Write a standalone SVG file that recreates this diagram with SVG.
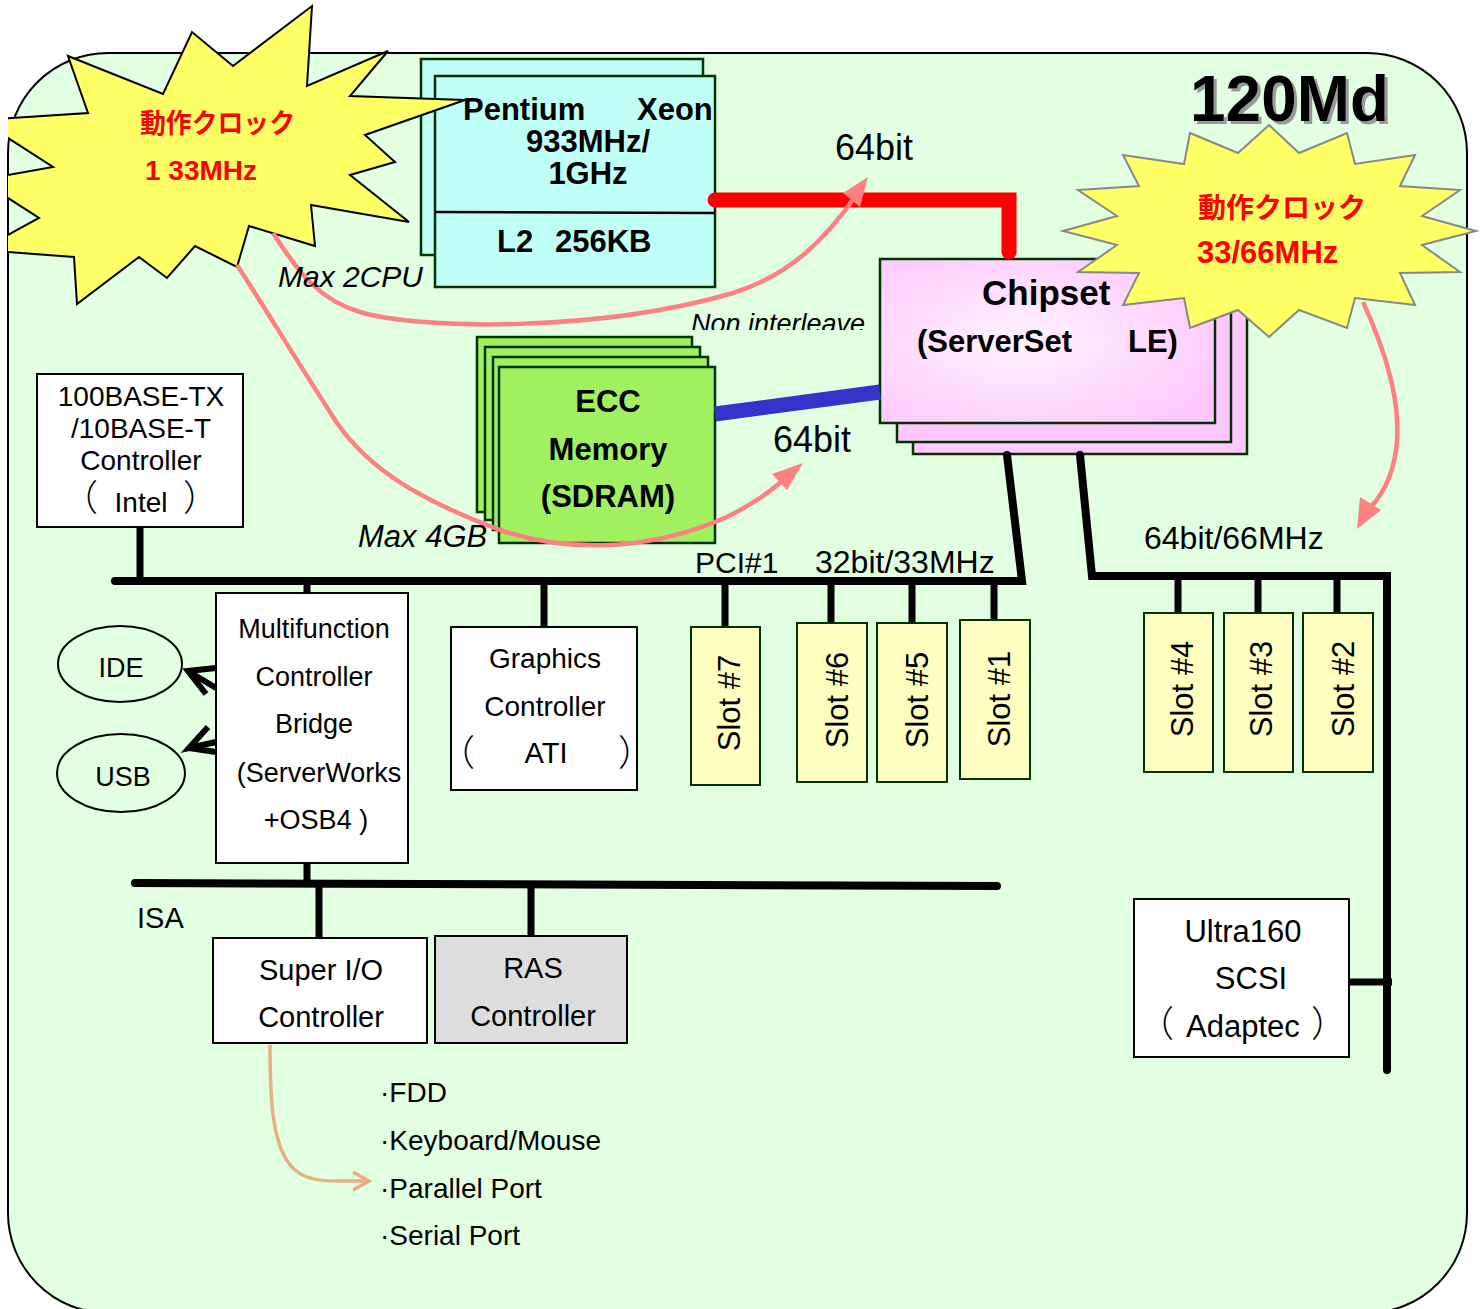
<svg xmlns="http://www.w3.org/2000/svg" width="1481" height="1309" viewBox="0 0 1481 1309">
<defs>
<style>
.t{font-family:"Liberation Sans",Arial,"Noto Sans CJK JP",sans-serif;fill:#000}
.b{font-weight:bold}
.i{font-style:italic}
.br{font-family:"Noto Sans CJK JP","Liberation Sans",sans-serif;font-size:36px;font-weight:300;fill:#000}
.jp{font-family:"Liberation Sans","Noto Sans CJK JP",sans-serif;font-weight:bold;fill:#ff0000}
.node{stroke:#003300;stroke-width:2.5}
.box{fill:#fff;stroke:#000;stroke-width:2}
.slot{fill:#ffffc0;stroke:#003300;stroke-width:2}
.bus{fill:none;stroke:#000;stroke-width:8}
.stem{fill:none;stroke:#000;stroke-width:7}
.pink{fill:none;stroke:#ff8080;stroke-width:4.5}
</style>
<radialGradient id="chipG" cx="0.42" cy="0.5" r="0.65">
<stop offset="0" stop-color="#fff4ff"/>
<stop offset="1" stop-color="#ffc8ff"/>
</radialGradient>
<filter id="shadow" x="-5%" y="-5%" width="115%" height="125%">
<feDropShadow dx="3" dy="3" stdDeviation="0.6" flood-color="#999999" flood-opacity="1"/>
</filter>
<clipPath id="clipL"><rect x="8" y="0" width="1473" height="1309"/></clipPath>
<clipPath id="clipNI"><rect x="680" y="300" width="200" height="30"/></clipPath>
</defs>

<rect id="board" x="8" y="53" width="1459" height="1260" rx="100" ry="100" fill="#e2ffe2" stroke="#000" stroke-width="2"/>

<g id="cpu">
<rect class="node" x="421" y="59" width="282" height="196" fill="#bffff8"/>
<rect class="node" x="435" y="76" width="280" height="211" fill="#bffff8"/>
<line x1="435" y1="212" x2="715" y2="213" stroke="#000" stroke-width="2.5"/>
</g>

<g id="memory">
<rect class="node" x="477" y="337" width="215" height="175" fill="#a0f060"/>
<rect class="node" x="485" y="347" width="215" height="173" fill="#a0f060"/>
<rect class="node" x="493" y="357" width="215" height="173" fill="#a0f060"/>
<rect class="node" x="499" y="367" width="216" height="176" fill="#a0f060"/>
<text class="t b" x="608" y="412" font-size="31" text-anchor="middle">ECC</text>
<text class="t b" x="608" y="460" font-size="31" text-anchor="middle">Memory</text>
<text class="t b" x="608" y="507" font-size="31" text-anchor="middle">(SDRAM)</text>
</g>

<g id="chipset">
<rect class="node" x="913" y="290" width="334" height="164" fill="#ffc8ff"/>
<rect class="node" x="897" y="276" width="334" height="166" fill="#ffc8ff"/>
<rect class="node" x="880" y="259" width="335" height="164" fill="url(#chipG)"/>
<text class="t b" x="982" y="305" font-size="35">Chipset</text>
<text class="t b" font-size="31"><tspan x="917" y="352">(ServerSet</tspan><tspan x="1128" y="352">LE)</tspan></text>
</g>

<g id="connectors">
<path d="M715,200 L1009,200 L1009,252" fill="none" stroke="#ff0000" stroke-width="15" stroke-linecap="round" stroke-linejoin="miter"/>
<line x1="715" y1="414" x2="880" y2="392" stroke="#3333cc" stroke-width="15"/>
<polyline class="bus" points="115,581 1022,581 1007,455" stroke-linecap="round"/>
<polyline class="bus" points="1080,455 1092,576 1387,576 1387,1070" stroke-linecap="round"/>
<line class="bus" x1="135" y1="883" x2="997" y2="886" stroke-linecap="round"/>
<line class="stem" x1="140" y1="527" x2="140" y2="582" stroke="#222"/>
<line class="stem" x1="307" y1="582" x2="307" y2="593"/>
<line class="stem" x1="544" y1="582" x2="544" y2="627"/>
<line class="stem" x1="725" y1="582" x2="725" y2="627"/>
<line class="stem" x1="831" y1="582" x2="831" y2="623"/>
<line class="stem" x1="912" y1="582" x2="912" y2="623"/>
<line class="stem" x1="994" y1="582" x2="994" y2="620"/>
<line class="stem" x1="1178" y1="576" x2="1178" y2="613"/>
<line class="stem" x1="1258" y1="576" x2="1258" y2="613"/>
<line class="stem" x1="1337" y1="576" x2="1337" y2="613"/>
<line class="stem" x1="1349" y1="982" x2="1392" y2="982"/>
<line class="stem" x1="307" y1="863" x2="307" y2="884"/>
<line class="stem" x1="319" y1="885" x2="319" y2="938"/>
<line class="stem" x1="531" y1="886" x2="531" y2="936"/>
<line x1="216" y1="688" x2="188" y2="671" stroke="#000" stroke-width="6"/>
<path d="M216,668 L188,671 L206,694" fill="none" stroke="#000" stroke-width="6"/>
<line x1="216" y1="752" x2="189" y2="748" stroke="#000" stroke-width="6"/>
<path d="M208,727 L189,748 L216,742" fill="none" stroke="#000" stroke-width="6"/>
<path d="M270,1045 C270,1100 272,1150 295,1170 C310,1183 330,1181 366,1181" fill="none" stroke="#e8b080" stroke-width="3.5"/>
<path d="M353,1172 L369,1181 L353,1190" fill="none" stroke="#e8b080" stroke-width="3.5"/>
</g>

<g id="net">
<rect class="box" x="37" y="374" width="206" height="153"/>
<text class="t" x="141" y="406" font-size="28" text-anchor="middle">100BASE-TX</text>
<text class="t" x="141" y="438" font-size="28" text-anchor="middle">/10BASE-T</text>
<text class="t" x="141" y="470" font-size="28" text-anchor="middle">Controller</text>
<text class="br" x="98" y="511" text-anchor="end">（</text>
<text class="t" x="141" y="512" font-size="28" text-anchor="middle">Intel</text>
<text class="br" x="183" y="511">）</text>
</g>

<g id="mfc">
<rect class="box" x="216" y="593" width="192" height="270"/>
<text class="t" x="314" y="638" font-size="27" text-anchor="middle">Multifunction</text>
<text class="t" x="314" y="686" font-size="27" text-anchor="middle">Controller</text>
<text class="t" x="314" y="733" font-size="27" text-anchor="middle">Bridge</text>
<text class="t" x="319" y="782" font-size="27" text-anchor="middle">(ServerWorks</text>
<text class="t" x="316" y="829" font-size="27" text-anchor="middle">+OSB4 )</text>
</g>

<g id="ide">
<ellipse cx="120" cy="664" rx="62" ry="38" fill="none" stroke="#000" stroke-width="2"/>
<text class="t" x="121" y="677" font-size="27" text-anchor="middle">IDE</text>
</g>
<g id="usb">
<ellipse cx="121" cy="773" rx="64" ry="39" fill="none" stroke="#000" stroke-width="2"/>
<text class="t" x="123" y="786" font-size="27" text-anchor="middle">USB</text>
</g>

<g id="graphics">
<rect class="box" x="451" y="627" width="186" height="163"/>
<text class="t" x="545" y="668" font-size="28" text-anchor="middle">Graphics</text>
<text class="t" x="545" y="716" font-size="28" text-anchor="middle">Controller</text>
<text class="br" x="475" y="766" text-anchor="end">（</text>
<text class="t" x="546" y="763" font-size="29" text-anchor="middle">ATI</text>
<text class="br" x="618" y="766">）</text>
</g>

<g id="slot7"><rect class="slot" x="691" y="627" width="69" height="158"/><text class="t" font-size="31" text-anchor="middle" transform="translate(740,703) rotate(-90)">Slot #7</text></g>
<g id="slot6"><rect class="slot" x="797" y="623" width="70" height="159"/><text class="t" font-size="31" text-anchor="middle" transform="translate(848,700) rotate(-90)">Slot #6</text></g>
<g id="slot5"><rect class="slot" x="877" y="623" width="70" height="159"/><text class="t" font-size="31" text-anchor="middle" transform="translate(928,700) rotate(-90)">Slot #5</text></g>
<g id="slot1"><rect class="slot" x="960" y="620" width="70" height="159"/><text class="t" font-size="31" text-anchor="middle" transform="translate(1010,699) rotate(-90)">Slot #1</text></g>
<g id="slot4"><rect class="slot" x="1144" y="613" width="69" height="159"/><text class="t" font-size="31" text-anchor="middle" transform="translate(1193,689) rotate(-90)">Slot #4</text></g>
<g id="slot3"><rect class="slot" x="1224" y="613" width="69" height="159"/><text class="t" font-size="31" text-anchor="middle" transform="translate(1272,689) rotate(-90)">Slot #3</text></g>
<g id="slot2"><rect class="slot" x="1303" y="613" width="70" height="159"/><text class="t" font-size="31" text-anchor="middle" transform="translate(1354,689) rotate(-90)">Slot #2</text></g>

<g id="superio">
<rect class="box" x="213" y="938" width="214" height="105"/>
<text class="t" x="321" y="980" font-size="29" text-anchor="middle">Super I/O</text>
<text class="t" x="321" y="1027" font-size="29" text-anchor="middle">Controller</text>
</g>
<g id="ras">
<rect x="435" y="936" width="192" height="107" fill="#dddddd" stroke="#000" stroke-width="2"/>
<text class="t" x="533" y="978" font-size="29" text-anchor="middle">RAS</text>
<text class="t" x="533" y="1026" font-size="29" text-anchor="middle">Controller</text>
</g>
<g id="scsi">
<rect class="box" x="1134" y="899" width="215" height="158"/>
<text class="t" x="1243" y="942" font-size="31" text-anchor="middle">Ultra160</text>
<text class="t" x="1251" y="989" font-size="31" text-anchor="middle">SCSI</text>
<text class="br" x="1174" y="1037" text-anchor="end">（</text>
<text class="t" x="1243" y="1037" font-size="31" text-anchor="middle">Adaptec</text>
<text class="br" x="1311" y="1037">）</text>
</g>

<g id="io-list">
<text class="t" x="380" y="1102" font-size="28">·FDD</text>
<text class="t" x="380" y="1150" font-size="28">·Keyboard/Mouse</text>
<text class="t" x="380" y="1198" font-size="28">·Parallel Port</text>
<text class="t" x="380" y="1245" font-size="28">·Serial Port</text>
</g>

<g id="clock-cpu">
<polygon clip-path="url(#clipL)" points="68,56 163,94 192,32 233,66 312,6 307,86 388,51 350,96 465,100 365,135 395,162 350,175 409,222 311,205 315,246 249,226 237,267 195,246 167,278 139,257 77,304 74,257 -20,250 39,218 -20,180 53,167 -20,120 88,113" fill="#ffff66" stroke="#000" stroke-width="2"/>
<text class="jp" x="140" y="133" font-size="27" textLength="155" lengthAdjust="spacingAndGlyphs">動作クロック</text>
<text class="jp" x="145" y="180" font-size="28">1 33MHz</text>
</g>

<g id="cpu-label">
<text class="t b" font-size="31"><tspan x="463" y="120">Pentium</tspan><tspan x="637" y="120">Xeon</tspan></text>
<text class="t b" x="588" y="152" font-size="31" text-anchor="middle">933MHz/</text>
<text class="t b" x="588" y="184" font-size="31" text-anchor="middle">1GHz</text>
<text class="t b" font-size="31"><tspan x="497" y="252">L2</tspan><tspan x="555" y="252">256KB</tspan></text>
</g>

<g id="clock-pci">
<polygon points="1269,125 1299,153 1347,133 1355,164 1415,155 1400,186 1460,190 1422,216 1476,231 1422,245 1460,272 1400,273 1415,305 1355,298 1347,328 1299,310 1269,337 1238,310 1190,328 1184,298 1123,305 1139,273 1078,272 1117,245 1063,231 1117,216 1078,190 1139,186 1123,155 1184,164 1190,133 1238,153" fill="#ffff66" stroke="#888" stroke-width="2"/>
<text class="jp" x="1198" y="218" font-size="28">動作クロック</text>
<text class="jp" x="1197" y="263" font-size="31">33/66MHz</text>
</g>

<g id="clock-arrows">
<path class="pink" d="M273,233 C300,275 320,300 360,312 C420,330 600,332 733,293 C790,275 825,240 857,194"/>
<polygon points="868,177 843,193 860,207" fill="#ff8080"/>
<path class="pink" d="M237,265 C260,300 290,350 337,423 C370,470 420,500 500,530 C560,550 640,555 727,517 C760,500 775,488 792,472"/>
<polygon points="803,463 772,474 787,490" fill="#ff8080"/>
<path class="pink" d="M1363,302 C1385,350 1400,400 1397,440 C1395,470 1385,492 1370,508"/>
<polygon points="1357,529 1360,497 1381,510" fill="#ff8080"/>
</g>

<g id="labels">
<text class="t b" x="1190" y="121" font-size="64" filter="url(#shadow)">120Md</text>
<text class="t" x="835" y="160" font-size="36">64bit</text>
<text class="t" x="773" y="452" font-size="36">64bit</text>
<text class="t i" x="278" y="287" font-size="30">Max 2CPU</text>
<text class="t i" x="358" y="547" font-size="31">Max 4GB</text>
<text class="t i" x="691" y="333" font-size="27" clip-path="url(#clipNI)">Non interleave</text>
<text class="t" x="695" y="573" font-size="30">PCI#1</text>
<text class="t" x="815" y="573" font-size="32">32bit/33MHz</text>
<text class="t" x="1144" y="549" font-size="32">64bit/66MHz</text>
<text class="t" x="137" y="928" font-size="29">ISA</text>
</g>
</svg>
